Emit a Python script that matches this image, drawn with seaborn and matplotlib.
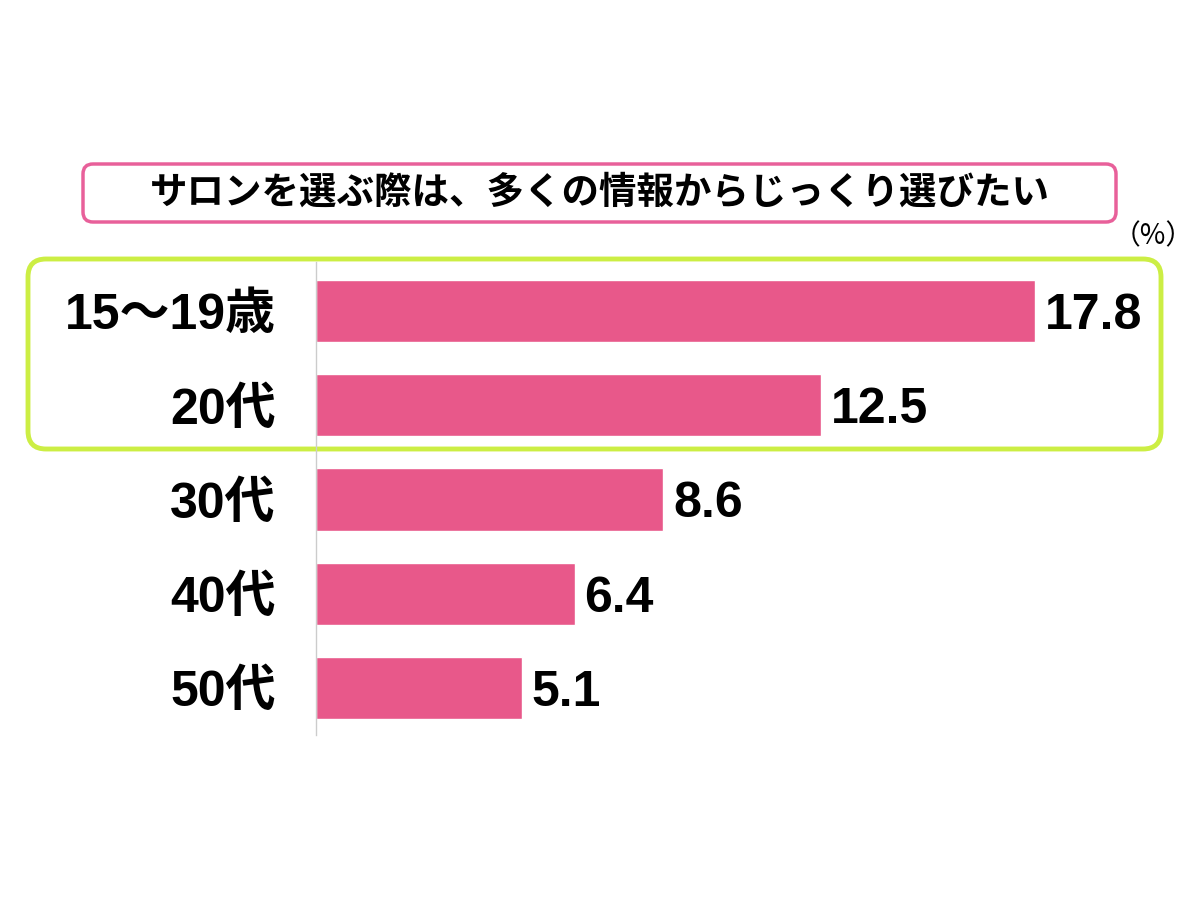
import matplotlib
matplotlib.use("Agg")
import matplotlib.pyplot as plt
import seaborn as sns
import pandas as pd
from matplotlib.patches import FancyBboxPatch

categories = ["15～19歳", "20代", "30代", "40代", "50代"]
values = [17.8, 12.5, 8.6, 6.4, 5.1]
title = "サロンを選ぶ際は、多くの情報からじっくり選びたい"
unit_label = "（%）"

sns.set_theme(style="white")
FAM = ["Liberation Sans", "Noto Sans CJK JP", "DejaVu Sans"]
plt.rcParams["font.family"] = FAM

BAR = "#E8588A"
PINK = "#E8609A"
GREEN = "#CCEE44"

fig = plt.figure(figsize=(12, 9), dpi=100)
fig.patch.set_facecolor("white")

# axes: left at x=316px, top at 262px, bottom at 735px, right at 1150px
ax = fig.add_axes([316/1200, (900-735)/900, (1150-316)/1200, (735-262)/900])
df = pd.DataFrame({"cat": categories, "val": values})
sns.barplot(data=df, x="val", y="cat", orient="h", color=BAR, saturation=1,
            width=0.66, ax=ax)
ax.set_xlim(0, (1150-316)/40.4)
ax.set_ylim(4.5, -0.52)
ax.set_xlabel("")
ax.set_ylabel("")
ax.set_xticks([])
for s in ["top", "right", "bottom"]:
    ax.spines[s].set_visible(False)
ax.spines["left"].set_color("#cccccc")
ax.spines["left"].set_linewidth(1)
ax.tick_params(axis="y", length=0, pad=29)
for lab in ax.get_yticklabels():
    lab.set_fontsize(36)
    lab.set_fontweight("bold")
    lab.set_color("black")
    lab.set_family(FAM)
for cont in ax.containers:
    texts = ax.bar_label(cont, fmt="%.1f", padding=7, fontsize=36, fontweight="bold",
                         color="black", family=FAM)
    for t in texts:
        t.set_va("center_baseline")

# overlay for decorations in pixel coordinates
ov = fig.add_axes([0, 0, 1, 1], zorder=-1)
ov.set_xlim(0, 1200)
ov.set_ylim(900, 0)
ov.axis("off")
ov.add_patch(FancyBboxPatch((83, 164), 1033, 58,
                            boxstyle="round,pad=0,rounding_size=10",
                            fc="white", ec=PINK, lw=2.5))
ov.add_patch(FancyBboxPatch((28, 259), 1133, 190,
                            boxstyle="round,pad=0,rounding_size=18",
                            fc="none", ec=GREEN, lw=3.5))
ax.set_facecolor("none")
fig.text(600/1200, 1 - 192/900, title, ha="center", va="center", fontsize=27,
         fontweight="bold", color="black", family=["Noto Sans CJK JP", "DejaVu Sans"])
fig.text(1153/1200, 1 - 236/900, unit_label, ha="center", va="center", fontsize=20,
         color="black", family=["Noto Sans CJK JP", "DejaVu Sans"])

fig.savefig("out.png", dpi=100, facecolor="white")
